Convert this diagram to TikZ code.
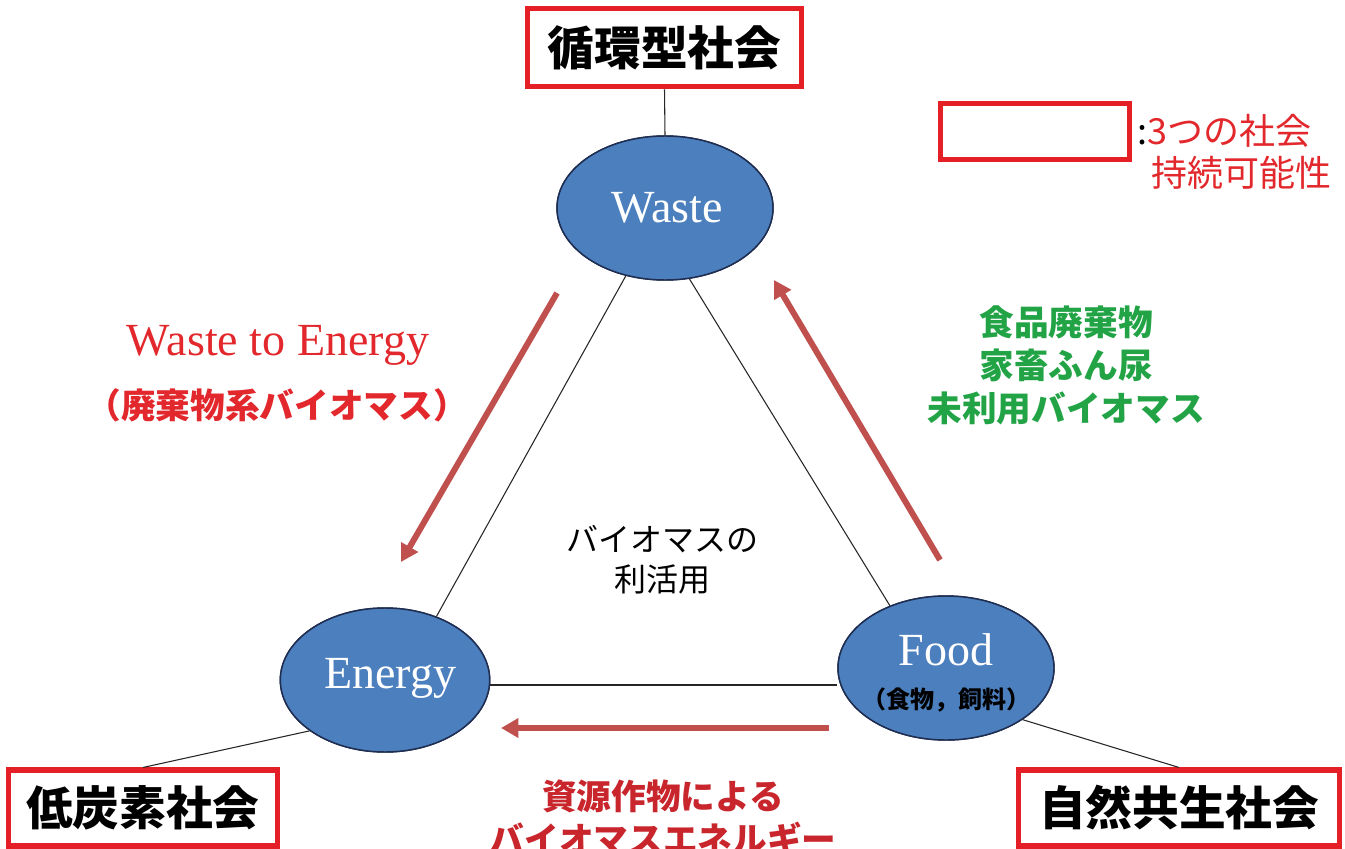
\documentclass[tikz,border=0pt]{standalone}
\usepackage{fontspec}
\setmainfont{Liberation Serif}
\newfontfamily\jp{Noto Sans CJK JP}
\usetikzlibrary{shapes.geometric,arrows.meta}
\definecolor{boxred}{RGB}{228,32,38}
\definecolor{arrowred}{RGB}{192,80,77}
\definecolor{txtred}{RGB}{226,40,44}
\definecolor{darkred}{RGB}{200,38,44}
\definecolor{grn}{RGB}{34,164,70}
\definecolor{ellfill}{RGB}{76,127,190}
\definecolor{elldraw}{RGB}{30,45,80}
\tikzset{
  soc/.style={draw=boxred, line width=3.8pt, fill=white, inner sep=0pt,
    font=\jp\bfseries\fontsize{35}{40}\selectfont, text=black},
  ell/.style={ellipse, draw=elldraw, line width=1.1pt, fill=ellfill, inner sep=0pt,
    minimum width=162pt, minimum height=108pt},
  elltxt/.style={text=white, font=\fontsize{34.5}{40}\selectfont},
  tri/.style={draw=black!85, line width=0.8pt},
  flow/.style={draw=arrowred, line width=4.5pt, -{Triangle[length=13pt,width=14pt]}},
}
\begin{document}
\begin{tikzpicture}[x=0.75pt,y=-0.75pt]
\useasboundingbox (0,0) rectangle (1345,849);

% ellipses
\node[ell] (W) at (665,208) {};
\node[ell, minimum width=157pt] (E) at (385,680) {};
\node[ell] (F) at (946,668) {};

% society boxes
\node[soc, minimum width=206pt, minimum height=59pt] (top) at (664.5,47.5) {循環型社会};
\node[soc, minimum width=202pt, minimum height=57pt] (low) at (143,808) {低炭素社会};
\node[soc, minimum width=241pt, minimum height=57pt] (nat) at (1179,808) {自然共生社会};

% connectors
\draw[tri] (top.south) -- (W.north);
\draw[tri] (W.240) -- (E.51);
\draw[tri] (W.-71) -- (F.132);
\coordinate (Eh) at ([yshift=-3.75pt]E.east);
\draw[tri] (Eh) -- (Eh -| F.west);
\draw[tri] (E.214) -- (low.north);
\draw[tri] (F.-34) -- (nat.north);

% redraw ellipses above lines
\node[ell] at (W) {};
\node[ell, minimum width=157pt] at (E) {};
\node[ell] at (F) {};
\node[elltxt] (Wt) at (667,208) {Waste};
\node[elltxt] (Et) at (390,678) {Energy};
\node[elltxt] (Ft) at (946,650) {Food};
\node[font=\jp\bfseries\fontsize{18}{20}\selectfont] (Fs) at (946,700) {（食物，飼料）};

% flow arrows
\coordinate (a1s) at (557,293);
\coordinate (a1e) at (401,562);
\coordinate (a2s) at (940,560);
\coordinate (a2e) at (774,280);
\coordinate (a3s) at (829,728);
\coordinate (a3e) at (501,728);
\draw[flow] (a1s) -- (a1e);
\draw[flow] (a2s) -- (a2e);
\draw[flow] (a3s) -- (a3e);

% labels
\node[text=txtred, font=\fontsize{34.5}{40}\selectfont] (wte) at (278,345) {Waste to Energy};
\node[text=txtred, font=\jp\bfseries\fontsize{26}{30}\selectfont] (wte2) at (277,405) {（廃棄物系バイオマス）};
\node[text=grn, font=\jp\bfseries\fontsize{26}{32.3}\selectfont, align=center] (grn) at (1066,365)
  {食品廃棄物\\家畜ふん尿\\未利用バイオマス};
\node[font=\jp\fontsize{24}{30}\selectfont, align=center] (mid) at (662,560) {バイオマスの\\利活用};
\node[text=darkred, font=\jp\bfseries\fontsize{26}{32}\selectfont, align=center] (bot) at (663,818)
  {資源作物による\\バイオマスエネルギー};

% legend
\node[draw=boxred, line width=3.8pt, minimum width=142pt, minimum height=42pt, inner sep=0pt] (leg) at (1035,131.5) {};
\node[anchor=west, inner sep=0pt, font=\jp\fontsize{27}{30}\selectfont] (leg1) at (1137,131) {:\textcolor{txtred}{3つの社会}};
\node[anchor=west, inner sep=0pt, text=txtred, font=\jp\fontsize{27}{30}\selectfont] (leg2) at (1151,173) {持続可能性};
\end{tikzpicture}
\end{document}
